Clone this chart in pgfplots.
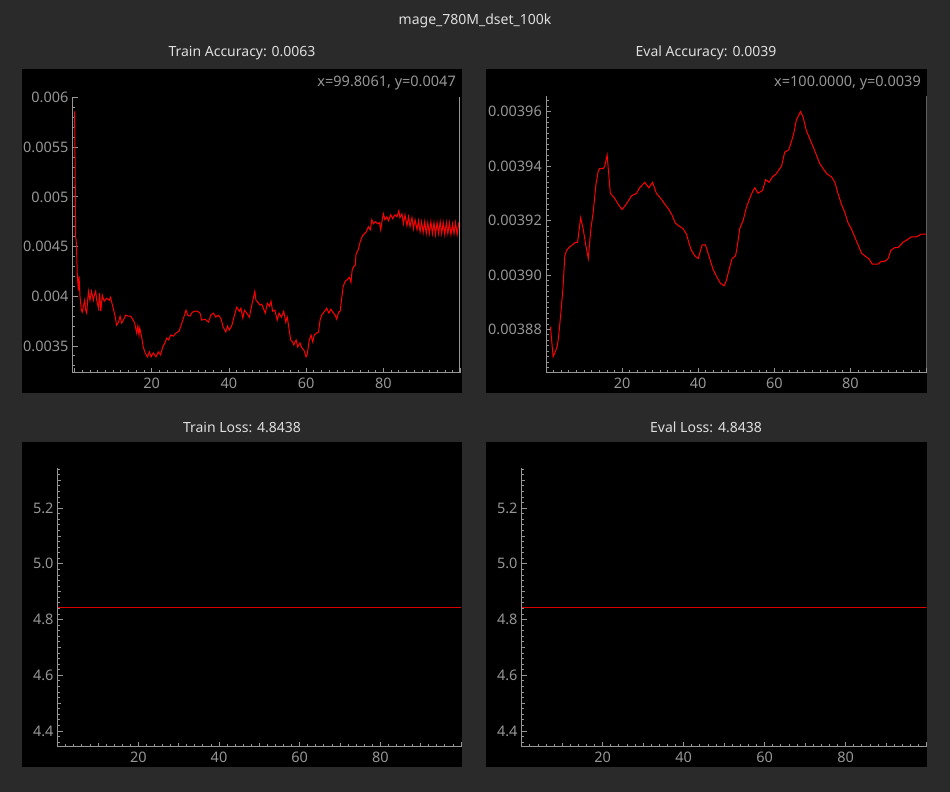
\documentclass[border=0pt]{standalone}
\usepackage{fontspec}
\setmainfont{Noto Sans}
\usepackage{pgfplots}
\pgfplotsset{compat=1.18}

\definecolor{winbg}{RGB}{42,42,42}
\definecolor{fg}{RGB}{150,150,150}
\definecolor{titlec}{RGB}{222,222,222}
\newcommand\tf{\fontsize{14.5}{16}\selectfont}
\newcommand\hf{\fontsize{14}{16}\selectfont}

\pgfplotsset{
  qt/.style={
    scale only axis,
    anchor=south west,
    axis x line*=bottom,
    axis y line*=left,
    axis line style={fg, line width=1pt},
    tick align=inside,
    major tick length=5pt,
    minor tick length=2.5pt,
    every tick/.style={fg, line width=0.8pt},
    tick label style={font=\tf, text=fg},
    yticklabel style={inner xsep=4pt},
    xticklabel style={inner ysep=5pt},
    scaled x ticks=false, scaled y ticks=false,
    xtick={0,20,...,100},
    xticklabels={,20,40,60,80,},
    minor xtick={0,2,...,100},
    extra x ticks={10,30,50,70,90},
    extra x tick labels={},
    extra x tick style={major tick length=3.3pt},
    every axis plot/.append style={line width=1pt},
  },
}

\begin{document}
\begin{tikzpicture}
\fill[winbg] (0pt,0pt) rectangle (950pt,792pt);
\useasboundingbox (0pt,0pt) rectangle (950pt,792pt);

% panels
\fill[black] (22pt,399pt) rectangle (462pt,723pt);
\fill[black] (486pt,399pt) rectangle (927pt,723pt);
\fill[black] (22pt,25pt) rectangle (462pt,350pt);
\fill[black] (486pt,25pt) rectangle (927pt,350pt);

% titles
\node[text=titlec, font=\hf] at (475pt,771pt) {mage\_780M\_dset\_100k};
\node[text=titlec, font=\hf] at (242pt,739pt) {Train Accuracy: 0.0063};
\node[text=titlec, font=\hf] at (706pt,739pt) {Eval Accuracy: 0.0039};
\node[text=titlec, font=\hf] at (242pt,365pt) {Train Loss: 4.8438};
\node[text=titlec, font=\hf] at (706pt,365pt) {Eval Loss: 4.8438};
\node[text=fg, font=\tf, anchor=east, inner sep=0pt] at (456pt,709pt) {x=99.8061, y=0.0047};
\node[text=fg, font=\tf, anchor=east, inner sep=0pt] at (921pt,709pt) {x=100.0000, y=0.0039};

% Train accuracy
\begin{axis}[qt, at={(72.7pt,419pt)}, width=388.3pt, height=276.3pt,
  xmin=-0.47, xmax=100.1, ymin=0.003228, ymax=0.006008,
  ytick={0.0035,0.004,0.0045,0.005,0.0055,0.006},
  yticklabels={0.0035,0.004,0.0045,0.005,0.0055,0.006},
  minor ytick={0.0033,0.0034,...,0.006}]
\addplot[red] coordinates {
(0,0.00586) (0.05,0.00574) (0.2,0.00507) (0.3,0.0046) (0.45,0.00455) (0.57,0.00443)
(0.73,0.0042) (0.9,0.00412) (1.0,0.00406) (1.17,0.0042) (1.42,0.0040) (1.77,0.00386)
(2.0,0.00384) (2.3,0.0039) (2.64,0.00396) (2.9,0.00386) (3.15,0.00383) (3.6,0.00405)
(4.0,0.00396) (4.4,0.00405) (4.88,0.00396) (5.2,0.00402) (5.48,0.00405) (5.74,0.00396)
(6.2,0.00388) (6.5,0.00403) (6.8,0.00385) (7.2,0.00401) (7.7,0.00395) (8.3,0.00398)
(9.0,0.00396) (9.3,0.00399) (9.9,0.0039) (10.5,0.0038) (10.9,0.00371) (11.4,0.00374)
(11.8,0.0038) (12.2,0.00373) (12.65,0.00376) (13.25,0.00381) (13.9,0.0038) (14.55,0.0038)
(15.2,0.00376) (15.6,0.00373) (16.1,0.00363) (16.4,0.0037) (16.7,0.00361) (16.9,0.00368)
(17.4,0.00359) (17.8,0.00349) (18.3,0.00343) (18.9,0.00339) (19.4,0.00344) (19.85,0.00339)
(20.4,0.00343) (21.1,0.00339) (21.7,0.00344) (22.3,0.00341) (22.85,0.00349) (23.4,0.00353)
(23.9,0.00358) (24.4,0.00356) (24.9,0.00361) (25.6,0.0036) (26.3,0.00363) (27.1,0.00365)
(27.8,0.00373) (28.4,0.0038) (28.9,0.00386) (29.3,0.00381) (29.9,0.0038) (30.5,0.00384)
(31.2,0.00385) (31.8,0.00385) (32.5,0.00383) (32.95,0.00376) (33.8,0.00377) (34.7,0.00374)
(35.3,0.00381) (35.96,0.00383) (36.6,0.00379) (37.2,0.00381) (37.9,0.00378) (38.5,0.00369)
(39.2,0.00364) (39.6,0.0037) (40.1,0.00366) (40.7,0.0037) (41.3,0.00379) (42.0,0.00389)
(42.7,0.00385) (43.1,0.00388) (43.6,0.00378) (44.0,0.00386) (44.6,0.00383) (45.3,0.00379)
(45.9,0.00391) (46.3,0.00398) (46.7,0.00405) (47.0,0.00396) (47.5,0.00394) (48.05,0.00391)
(48.5,0.00392) (49.1,0.00386) (49.4,0.00383) (49.95,0.00393) (50.5,0.0039) (50.9,0.00395)
(51.3,0.00385) (51.9,0.00386) (52.5,0.00376) (53.0,0.00383) (53.6,0.00379) (54.2,0.00385)
(54.7,0.00374) (55.1,0.00379) (55.6,0.00366) (56.0,0.00356) (56.5,0.00354) (56.8,0.00351)
(57.4,0.00356) (57.8,0.00349) (58.4,0.00353) (58.9,0.00348) (59.4,0.00346) (59.97,0.00339)
(60.3,0.00342) (60.8,0.00356) (61.25,0.00361) (61.7,0.00354) (62.1,0.00361) (62.7,0.00363)
(63.2,0.00364) (63.6,0.00376) (64.0,0.00381) (64.6,0.00384) (65.3,0.00388) (65.9,0.00383)
(66.4,0.00387) (66.9,0.00384) (67.5,0.00381) (67.9,0.00377) (68.4,0.00384) (68.8,0.00385)
(69.2,0.00398) (69.6,0.0041) (70.1,0.00415) (70.7,0.00417) (71.2,0.00419) (71.6,0.00414)
(71.9,0.00426) (72.3,0.0043) (72.7,0.00431) (72.9,0.00442) (73.5,0.00447) (74.0,0.00455)
(74.6,0.00461) (75.1,0.00463) (75.6,0.00465) (76.1,0.0047) (76.6,0.00467) (77.0,0.00477)
(77.4,0.00473) (77.9,0.00475) (78.5,0.00473) (79.0,0.00474) (79.3,0.00467) (79.7,0.00477)
(80.0,0.00483) (80.4,0.00477) (80.9,0.0048) (81.3,0.00476) (81.9,0.00482) (82.4,0.00478)
(83.0,0.00482) (83.5,0.0048) (84.0,0.00486) (84.3,0.00479) (84.8,0.00483) (85.2,0.00473)
(85.6,0.00482) (86.1,0.00471) (86.5,0.0048) (86.9,0.0047) (87.4,0.00479) (87.8,0.00468)
(88.2,0.00477) (88.7,0.00467) (89.1,0.00476) (89.5,0.00465) (89.9,0.00475) (90.3,0.00464)
(90.7,0.00475) (91.1,0.00463) (91.5,0.00474) (91.9,0.00463) (92.3,0.00475) (92.7,0.00463)
(93.1,0.00474) (93.5,0.00462) (93.9,0.00474) (94.3,0.00463) (94.7,0.00475) (95.1,0.00463)
(95.5,0.00474) (95.9,0.00462) (96.3,0.00474) (96.7,0.00463) (97.1,0.00474) (97.5,0.00462)
(97.9,0.00473) (98.3,0.00463) (98.7,0.00474) (99.1,0.00462) (99.5,0.00473) (99.8,0.00470)
};
\addplot[fg] coordinates {(99.8061,0.003228) (99.8061,0.006008)};
\end{axis}

% Eval accuracy
\begin{axis}[qt, at={(546pt,419pt)}, width=380.6pt, height=277pt,
  xmin=0, xmax=100, ymin=0.003864, ymax=0.0039657,
  ytick={0.00388,0.0039,0.00392,0.00394,0.00396},
  yticklabels={0.00388,0.00390,0.00392,0.00394,0.00396},
  minor ytick={0.003866,0.003868,...,0.003965},
  extra y ticks={0.00387,0.00389,0.00391,0.00393,0.00395},
  extra y tick labels={},
  extra y tick style={major tick length=3.3pt}]
\addplot[red] coordinates {
(1.17,0.003881) (1.87,0.003870) (2.5,0.003872) (3.0,0.003874) (3.36,0.003878) (3.9,0.003886)
(4.5,0.003896) (4.94,0.003907) (5.4,0.003909) (6.0,0.003910) (6.9,0.003911) (7.74,0.003912)
(8.3,0.003912) (9.1,0.003921) (9.75,0.003917) (10.45,0.003911) (11.1,0.003906) (11.8,0.003917)
(12.4,0.003923) (13.1,0.003933) (13.7,0.003938) (14.1,0.003939) (15.0,0.003939) (15.45,0.003940)
(16.06,0.003944) (16.9,0.003930) (18.1,0.003928) (18.95,0.003926) (20,0.003924) (21.1,0.003926)
(22.45,0.003929) (23.8,0.003930) (24.6,0.003932) (25.95,0.003934) (27.0,0.003932) (28.0,0.003934)
(29.0,0.003930) (30.2,0.003928) (31.2,0.003926) (32.3,0.003924) (33.1,0.003922) (34.0,0.003919)
(34.9,0.003918) (36.0,0.003917) (36.9,0.003915) (37.5,0.003912) (38.2,0.003909) (39.1,0.003907)
(40.0,0.003906) (40.4,0.003908) (41.0,0.003911) (41.9,0.003911) (42.8,0.003907) (43.9,0.003902)
(45.0,0.003899) (45.8,0.003897) (46.8,0.003896) (47.4,0.003898) (48.1,0.003902) (48.9,0.003906)
(49.8,0.003907) (50.2,0.003910) (50.9,0.003917) (51.8,0.003920) (52.7,0.003925) (53.5,0.003928)
(54.4,0.003931) (54.85,0.003932) (55.7,0.003930) (56.9,0.003931) (57.7,0.003935) (58.6,0.003934)
(59.5,0.003936) (60.4,0.003937) (61.4,0.003939) (61.9,0.003940) (62.7,0.003945) (63.8,0.003946)
(64.5,0.003949) (65.1,0.003952) (65.8,0.003957) (66.2,0.003958) (66.85,0.003960) (67.55,0.003958)
(68.4,0.003953) (69.3,0.003950) (70.2,0.003947) (71.05,0.003944) (71.9,0.003941) (72.8,0.003939)
(73.9,0.003937) (75.0,0.003936) (75.9,0.003934) (76.7,0.003930) (77.6,0.003926) (78.5,0.003923)
(79.4,0.003919) (80.2,0.003917) (81.1,0.003914) (82.0,0.003911) (82.9,0.003908) (83.75,0.003907)
(84.8,0.003906) (85.7,0.003904) (86.4,0.003904) (87.25,0.003904) (88.1,0.003905) (89.0,0.003905)
(89.9,0.003906) (90.6,0.003909) (91.6,0.003910) (92.5,0.003910) (93.8,0.003912) (95.0,0.003913)
(96.0,0.003914) (97.35,0.003914) (98.6,0.003915) (99.8,0.003915)
};
\addplot[fg] coordinates {(99.95,0.003864) (99.95,0.0039657)};
\end{axis}

% Train loss
\begin{axis}[qt, at={(57.7pt,45.3pt)}, width=403.3pt, height=278.7pt,
  xmin=0, xmax=100, ymin=4.3438, ymax=5.3438,
  ytick={4.4,4.6,4.8,5.0,5.2},
  yticklabels={4.4,4.6,4.8,5.0,5.2},
  minor ytick={4.36,4.38,...,5.34},
  extra y ticks={4.5,4.7,4.9,5.1,5.3},
  extra y tick labels={},
  extra y tick style={major tick length=3.3pt}]
\addplot[red!85!black] coordinates {(0,4.8438) (25,4.8438) (50,4.8438) (75,4.8438) (100,4.8438)};
\end{axis}

% Eval loss
\begin{axis}[qt, at={(521.7pt,45.3pt)}, width=404.9pt, height=278.7pt,
  xmin=0, xmax=100, ymin=4.3438, ymax=5.3438,
  ytick={4.4,4.6,4.8,5.0,5.2},
  yticklabels={4.4,4.6,4.8,5.0,5.2},
  minor ytick={4.36,4.38,...,5.34},
  extra y ticks={4.5,4.7,4.9,5.1,5.3},
  extra y tick labels={},
  extra y tick style={major tick length=3.3pt}]
\addplot[red!85!black] coordinates {(0,4.8438) (25,4.8438) (50,4.8438) (75,4.8438) (100,4.8438)};
\end{axis}
\end{tikzpicture}
\end{document}
